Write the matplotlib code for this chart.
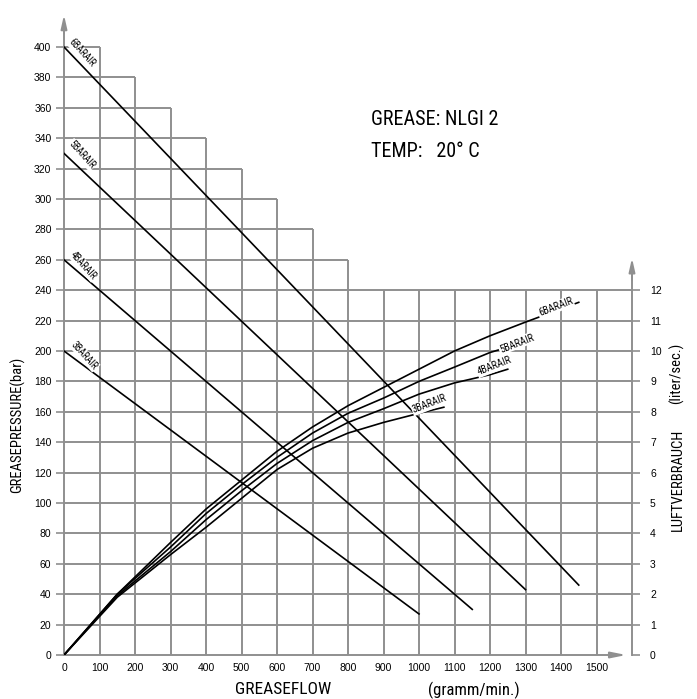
import matplotlib
matplotlib.use("Agg")
import matplotlib.pyplot as plt

plt.rcParams['font.family'] = ['Liberation Sans', 'DejaVu Sans']
COND = ['Roboto Condensed', 'Archivo Narrow', 'Liberation Sans', 'DejaVu Sans']

# ---------------- data ----------------
air_labels = ["6BARAIR", "5BARAIR", "4BARAIR", "3BARAIR"]

# grease pressure lines (bar) vs grease flow (g/min)
press_6_x = [0, 1450]
press_6_y = [400, 46]
press_5_x = [0, 1300]
press_5_y = [330, 43]
press_4_x = [0, 1150]
press_4_y = [260, 30]
press_3_x = [0, 1000]
press_3_y = [200, 27]

# air consumption (liter/sec) vs grease flow (g/min)
air_6_x = [0, 150, 300, 400, 500, 600, 700, 800, 900, 1000, 1100, 1200, 1300, 1450]
air_6_y = [0, 2.0, 3.7, 4.8, 5.75, 6.7, 7.5, 8.2, 8.8, 9.4, 10.0, 10.5, 10.95, 11.6]
air_5_x = [0, 150, 300, 400, 500, 600, 700, 800, 900, 1000, 1100, 1200, 1300]
air_5_y = [0, 2.0, 3.55, 4.65, 5.6, 6.5, 7.3, 7.95, 8.45, 9.0, 9.47, 9.95, 10.3]
air_4_x = [0, 150, 300, 400, 500, 600, 700, 800, 900, 1000, 1100, 1200, 1250]
air_4_y = [0, 1.95, 3.4, 4.45, 5.4, 6.3, 7.05, 7.65, 8.1, 8.58, 8.95, 9.22, 9.4]
air_3_x = [0, 150, 300, 400, 500, 600, 700, 800, 900, 1000, 1070]
air_3_y = [0, 1.9, 3.3, 4.2, 5.15, 6.1, 6.8, 7.3, 7.65, 7.95, 8.15]

x_ticks = list(range(0, 1600, 100))
y_ticks = list(range(0, 420, 20))
r_ticks = list(range(0, 13))

grid_col = "#8f8f8f"

fig = plt.figure(figsize=(6.97, 6.99), dpi=100)
ax = fig.add_axes([64/697, 44/699, 568/697, 643/699])
XMAX, YMAX = 1600, 423
ax.set_xlim(0, XMAX)
ax.set_ylim(0, YMAX)
for s in ax.spines.values():
    s.set_visible(False)

# staircase grid
for k in range(1, 16):
    xv = 100 * k
    top = 400 - 20 * (k - 1) if k <= 8 else 240
    ax.plot([xv, xv], [0, top], color=grid_col, lw=1.4, zorder=1, solid_capstyle='butt')
for j in range(1, 21):
    yv = 20 * j
    right = XMAX if yv <= 240 else 800 - (yv - 260) * 5
    ax.plot([0, right], [yv, yv], color=grid_col, lw=1.4, zorder=1, solid_capstyle='butt')

# axes with arrows
ax.plot([0, 0], [0, YMAX - 12], color=grid_col, lw=1.4, zorder=2, clip_on=False)
ax.annotate('', xy=(0, YMAX), xytext=(0, YMAX - 16),
            arrowprops=dict(arrowstyle='-|>,head_length=0.8,head_width=0.18', color=grid_col, lw=1.4),
            annotation_clip=False)
ax.plot([0, XMAX - 40], [0, 0], color=grid_col, lw=1.4, zorder=2, clip_on=False)
ax.annotate('', xy=(XMAX - 8, 0), xytext=(XMAX - 60, 0),
            arrowprops=dict(arrowstyle='-|>,head_length=0.9,head_width=0.18', color=grid_col, lw=1.4),
            annotation_clip=False)
ax.plot([XMAX, XMAX], [0, 250], color=grid_col, lw=1.4, zorder=2, clip_on=False)
ax.annotate('', xy=(XMAX, 263), xytext=(XMAX, 245),
            arrowprops=dict(arrowstyle='-|>,head_length=0.8,head_width=0.18', color=grid_col, lw=1.4),
            annotation_clip=False)

# ticks
ax.set_xticks(x_ticks)
ax.set_xticklabels([str(v) for v in x_ticks], fontsize=7.5)
ax.set_yticks(y_ticks)
ax.set_yticklabels([str(v) for v in y_ticks], fontsize=7.5)
ax.tick_params(axis='y', length=6, width=1.2, color=grid_col, pad=3)
ax.tick_params(axis='x', length=0, pad=6)

ax2 = ax.twinx()
for s in ax2.spines.values():
    s.set_visible(False)
ax2.set_ylim(0, YMAX / 20)
ax2.set_yticks(r_ticks)
ax2.set_yticklabels([str(v) for v in r_ticks], fontsize=7.5)
ax2.tick_params(axis='y', length=6, width=1.2, color=grid_col, pad=7)

# pressure lines
press = [(press_6_x, press_6_y), (press_5_x, press_5_y), (press_4_x, press_4_y), (press_3_x, press_3_y)]
for px, py in press:
    ax.plot(px, py, color='black', lw=1.2, zorder=4)

# air consumption curves (right axis)
airs = [(air_6_x, air_6_y), (air_5_x, air_5_y), (air_4_x, air_4_y), (air_3_x, air_3_y)]
for axx, ayy in airs:
    ax2.plot(axx, ayy, color='black', lw=1.2, zorder=4)

bbox = dict(facecolor='white', edgecolor='none', pad=0.5)
# labels on pressure lines
for lab, pos in zip(air_labels, [(50, 396), (50, 329), (55, 256), (58, 197)]):
    ax.text(pos[0], pos[1], lab, fontsize=7, rotation=-48, ha='center', va='center',
            bbox=bbox, zorder=5, rotation_mode='anchor', family=COND)

# labels on air curves
for lab, pos in zip(air_labels, [(1385, 11.45), (1275, 10.25), (1213, 9.5), (1030, 8.25)]):
    ax2.text(pos[0], pos[1], lab, fontsize=7.5, rotation=21, ha='center', va='center',
             bbox=bbox, zorder=5, rotation_mode='anchor', family=COND)

# annotations
ax.text(865, 352, "GREASE: NLGI 2", fontsize=14.5, ha='left', va='center', family=COND)
ax.text(865, 331, "TEMP:   20° C", fontsize=14.5, ha='left', va='center', family=COND)

fig.text(283/697, 1 - 690/699, "GREASEFLOW", fontsize=12.5, ha='center', va='center', family=COND)
fig.text(474/697, 1 - 690/699, "(gramm/min.)", fontsize=12, ha='center', va='center', family=COND)
fig.text(17/697, 1 - 425/699, "GREASEPRESSURE(bar)", fontsize=10.5, rotation=90, ha='center', va='center', family=COND)
fig.text(678/697, 1 - 480/699, "LUFTVERBRAUCH", fontsize=10.5, rotation=90, ha='center', va='center', family=COND)
fig.text(676/697, 1 - 373/699, "(liter/sec.)", fontsize=10.5, rotation=90, ha='center', va='center', family=COND)

fig.savefig("out.png", dpi=100)
